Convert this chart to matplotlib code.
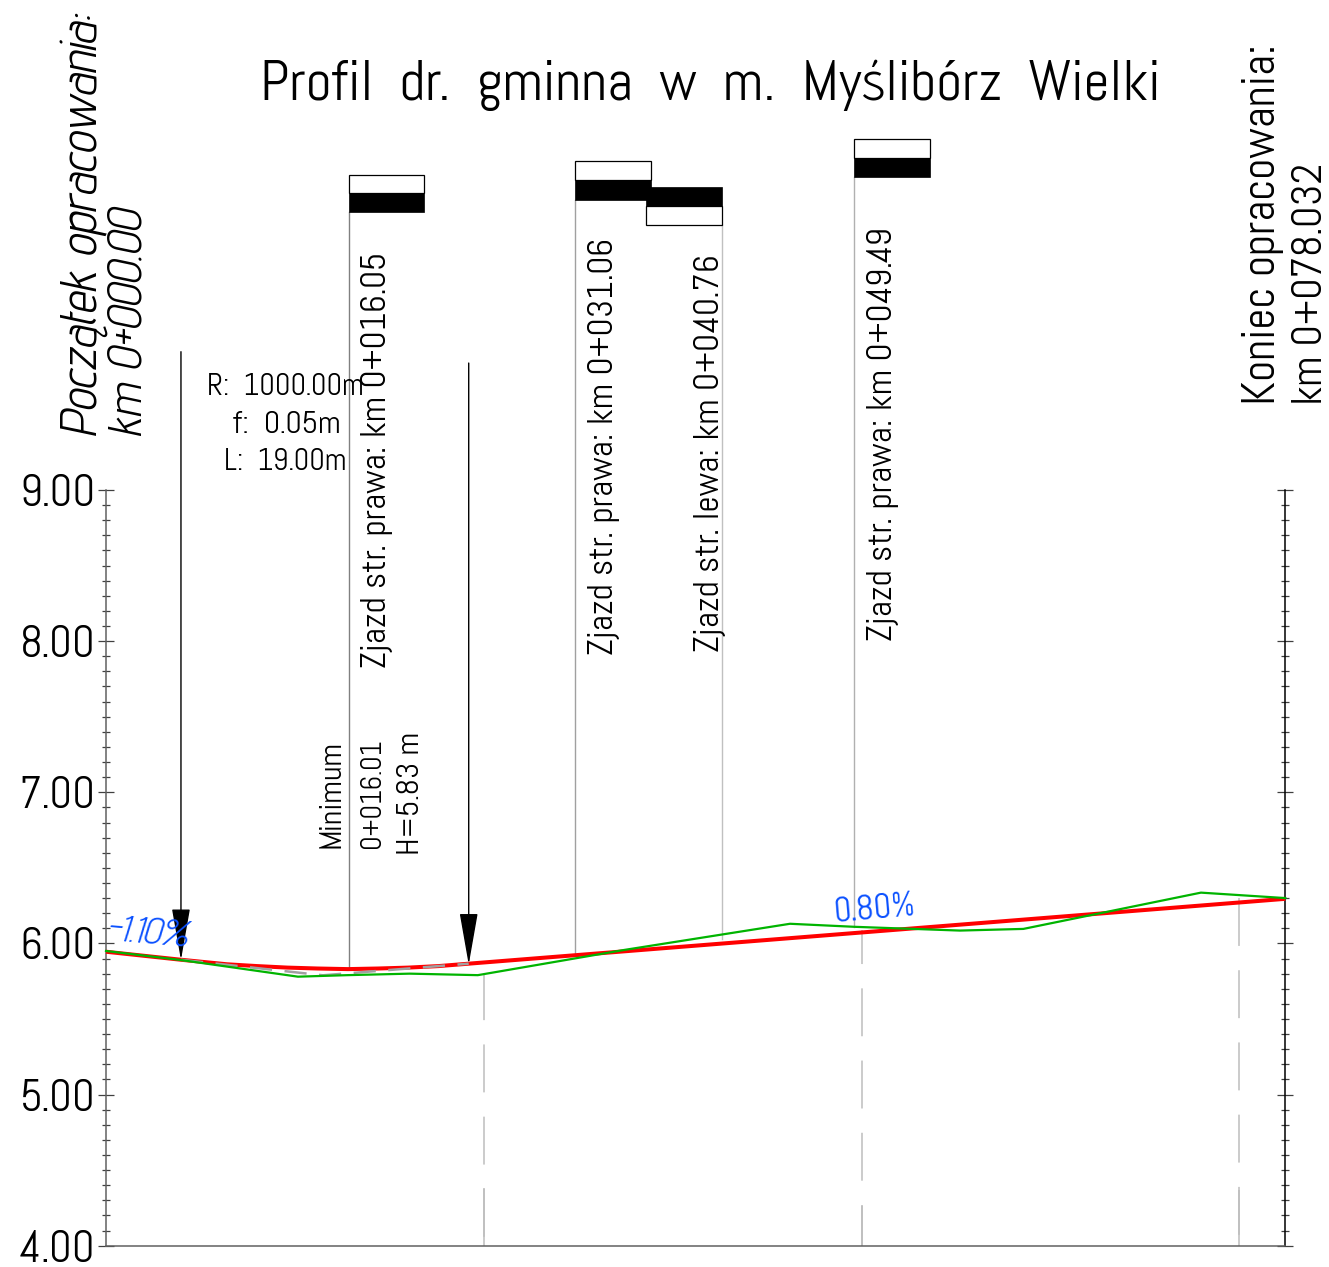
import matplotlib
matplotlib.use("Agg")
import matplotlib.pyplot as plt
from matplotlib.patches import Rectangle

MAIN_FONT = ['Abel', 'Advent Pro', 'Liberation Sans', 'DejaVu Sans']
ITALIC_FONT = ['Advent Pro', 'Liberation Sans', 'DejaVu Sans']
plt.rcParams['font.family'] = MAIN_FONT
plt.rcParams['lines.scale_dashes'] = False

W, H = 1329, 1267
AX_L, AX_R, AX_T, AX_B = 106.0, 1285.3, 490.0, 1245.7

# ---- data ----
terrain_km = [0, 4.96, 12.70, 15.95, 20.1, 24.6, 34.3, 45.26, 49.5, 56.5, 60.7, 72.45, 78.032]
terrain_h = [5.95, 5.89, 5.78, 5.79, 5.80, 5.79, 5.957, 6.13, 6.11, 6.085, 6.096, 6.336, 6.30]
grade_km = [0, 4.96, 8, 10, 12, 14, 16.01, 18, 20, 22, 24, 78.032]
grade_h = [5.945, 5.892, 5.862, 5.85, 5.84, 5.834, 5.83, 5.834, 5.84, 5.85, 5.866, 6.295]
tangent_km = [4.96, 14.35, 24.0]
tangent_h = [5.892, 5.789, 5.866]

drive_km = [16.05, 31.06, 35.76, 49.49]
drive_len = [5.0, 5.0, 5.0, 5.0]
drive_black_low = [10.84, 10.92, 10.877, 11.07]
drive_black_high = [10.966, 11.05, 11.006, 11.196]
drive_white_low = [10.966, 11.05, 10.755, 11.196]
drive_white_high = [11.086, 11.18, 10.877, 11.32]
drive_stem_km = [16.05, 31.06, 40.76, 49.49]
drive_stem_low = [5.83, 5.93, 6.03, 6.11]
drive_stem_high = [10.84, 10.92, 10.755, 11.07]

station_km = [25.0, 50.0, 75.0]
station_low = [4.0, 4.0, 4.0]
station_high = [5.79, 6.09, 6.30]
station_tail = [4.384, 4.264, 4.369]

arrow_km = [4.96, 24.0]
arrow_top = [9.915, 9.84]
arrow_tip = [5.89, 5.86]

y_ticks = [4, 5, 6, 7, 8, 9]
y_labels = ['4.00', '5.00', '6.00', '7.00', '8.00', '9.00']
y_minor = [4 + i * 0.1 for i in range(51) if i % 10]

title = 'Profil  dr.  gminna  w  m.  Myślibórz  Wielki'

# ---- styles ----
drive_stem_col = ['#808080', '#a0a0a0', '#c0c0c0', '#b0b0b0']
station_dash_offset = [2, 10, 0]

fig = plt.figure(figsize=(W / 100, H / 100), dpi=100, facecolor='white')
ax = fig.add_axes([AX_L / W, 1 - AX_B / H, (AX_R - AX_L) / W, (AX_B - AX_T) / H])
ax.set_xlim(0, 78.032)
ax.set_ylim(4, 9)
ax.patch.set_alpha(0)

ax.spines['top'].set_visible(False)
for s in ['left', 'bottom']:
    ax.spines[s].set_color('#606060')
    ax.spines[s].set_linewidth(1.1)
ax.spines['right'].set_color('black')
ax.spines['right'].set_linewidth(1.1)

ax.set_xticks([])
ax.set_yticks(y_ticks)
ax.set_yticklabels(y_labels, fontsize=32, color='black')
ax.set_yticks(y_minor, minor=True)
ax.tick_params(axis='y', which='major', direction='inout', length=11.5, width=0.9,
               left=True, right=True, color='#404040', pad=2)
ax.tick_params(axis='y', which='minor', direction='inout', length=5.8, width=0.9,
               left=True, right=True, color='#404040')


def px(xp):
    return (xp - AX_L) / (AX_R - AX_L) * 78.032


def py(yp):
    return 4 + (AX_B - yp) / (AX_B - AX_T) * 5


# stations
for k, lo, hi, tail, off in zip(station_km, station_low, station_high, station_tail, station_dash_offset):
    ax.plot([k, k], [hi, lo], color='#bdbdbd', lw=1.1, ls=(off, (34.5, 17.5)), zorder=1, clip_on=False)
    ax.plot([k, k], [lo, tail], color='#bdbdbd', lw=1.1, zorder=1, solid_capstyle='butt')

# driveway stems and boxes
for k, lo, hi, c in zip(drive_stem_km, drive_stem_low, drive_stem_high, drive_stem_col):
    ax.plot([k, k], [lo, hi], color=c, lw=1.0, zorder=1, clip_on=False)
for k, l, bl, bh, wl, wh in zip(drive_km, drive_len, drive_black_low, drive_black_high,
                                drive_white_low, drive_white_high):
    ax.add_patch(Rectangle((k, wl), l, wh - wl, fc='white', ec='black', lw=0.9, clip_on=False, zorder=2))
    ax.add_patch(Rectangle((k, bl), l, bh - bl, fc='black', ec='black', lw=0.5, clip_on=False, zorder=3))

# profile lines
ax.plot(grade_km, grade_h, color='#ff0000', lw=2.9, zorder=4, clip_on=False, solid_capstyle='butt')
ax.plot(tangent_km, tangent_h, color='#a0a0a0', lw=1.8, ls=(0, (16, 9)), zorder=5)
ax.plot(terrain_km, terrain_h, color='#00b400', lw=1.6, zorder=6, clip_on=False)

# arrows
for k, top, tip in zip(arrow_km, arrow_top, arrow_tip):
    ax.annotate('', xy=(k, tip), xytext=(k, top), annotation_clip=False, zorder=7,
                arrowprops=dict(arrowstyle='-|>,head_length=33,head_width=5.8', mutation_scale=1,
                                shrinkA=0, shrinkB=0, color='black', lw=1.0))


def txt(xp, yp, s, size, rot=90, ha='center', va='center', **kw):
    ax.text(px(xp), py(yp), s, fontsize=size, rotation=rot, ha=ha, va=va, clip_on=False,
            rotation_mode='anchor' if rot != 90 else 'default', **kw)


txt(710, 85, title, 41, rot=0)
txt(85, 437, 'Początek opracowania:', 36.4, va='bottom', style='italic', family=ITALIC_FONT)
txt(130, 437, 'km 0+000.00', 33.5, va='bottom', style='italic', family=ITALIC_FONT)
txt(1263, 405, 'Koniec opracowania:', 33.4, va='bottom')
txt(1311, 405, 'km 0+078.032', 30.7, va='bottom')

txt(285, 387, 'R:  1000.00m', 22, rot=0)
txt(286.5, 425, 'f:  0.05m', 23, rot=0)
txt(285.5, 462, 'L:  19.00m', 22, rot=0)

txt(377, 668, 'Zjazd str. prawa: km 0+016.05', 25.7, va='bottom')
txt(604, 655, 'Zjazd str. prawa: km 0+031.06', 25.7, va='bottom')
txt(710, 652, 'Zjazd str. lewa: km 0+040.76', 25.7, va='bottom')
txt(883, 641, 'Zjazd str. prawa: km 0+049.49', 25.7, va='bottom')

txt(332, 848, 'Minimum', 23, va='bottom')
txt(372, 848, '0+016.01', 20.7, va='bottom')
txt(411, 855, 'H=5.83 m', 23, va='bottom')

txt(147, 934, '-1.10%', 27, rot=-5, color='#0a50ff', style='italic', family=ITALIC_FONT, zorder=8)
txt(875, 909, '0.80%', 25, rot=5, color='#0a50ff', zorder=8)

fig.savefig('out.png', dpi=100, facecolor='white')
